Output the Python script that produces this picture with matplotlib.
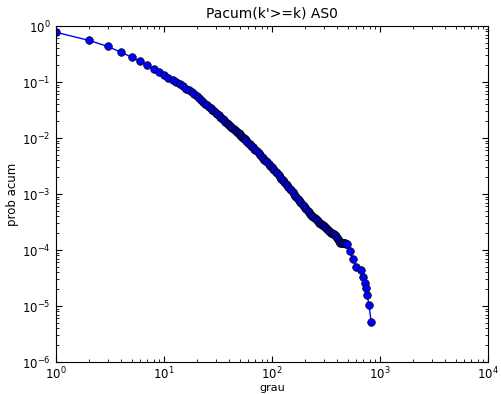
import numpy as np
import matplotlib
matplotlib.use('Agg')
import matplotlib.pyplot as plt

# degree values (grau) and cumulative probability P(k'>=k)
grau = [1, 2, 3, 4, 5, 6, 7, 8, 9, 10, 11, 12, 13, 14, 15, 16, 17, 18, 19, 20,
        21, 22, 23, 24, 25, 26, 27, 28, 29, 30, 31, 32, 33, 34, 35, 36, 37,
        38, 39, 40, 41, 42, 43, 44, 45, 46, 47, 48, 49, 50, 51, 52, 53, 54,
        55, 56, 57, 58, 60, 62, 64, 66, 68, 70, 72, 75, 77, 80, 82, 85, 87,
        90, 93, 96, 99, 102, 105, 108, 111, 115, 118, 122, 126, 130, 134, 138,
        142, 146, 150, 155, 160, 164, 168, 173, 177, 182, 187, 192, 197, 202,
        207, 213, 219, 225, 230, 236, 242, 248, 254, 260, 266, 272, 278, 285,
        291, 298, 305, 312, 319, 326, 333, 340, 347, 355, 362, 370, 377, 385,
        392, 400, 407, 415, 422, 430, 440, 450, 460, 470, 480, 490, 527, 562,
        599, 667, 696, 727, 742, 758, 791, 826]
prob_acum = [0.772, 0.556, 0.434, 0.339, 0.279, 0.234, 0.199, 0.171, 0.153,
             0.132, 0.118, 0.107, 0.100, 0.0908, 0.0832, 0.0765, 0.0706,
             0.0652, 0.0603, 0.0560,
             0.0513, 0.0472, 0.0439, 0.0409, 0.0382, 0.0358, 0.0337, 0.0317,
             0.0299, 0.0282, 0.0267, 0.0253, 0.0240, 0.0229, 0.0217, 0.0207,
             0.0197, 0.0188, 0.0180, 0.0173,
             0.01656, 0.01589, 0.0152, 0.01462, 0.01403, 0.0135, 0.01300,
             0.01253, 0.0121, 0.01164, 0.01122, 0.01084, 0.01047, 0.01012,
             0.0098, 0.00946, 0.00916, 0.00885, 0.00828, 0.00777, 0.00728,
             0.00684, 0.00646, 0.00610, 0.00577, 0.00531, 0.00504, 0.00467,
             0.00445, 0.00413, 0.00394, 0.00366, 0.00342, 0.00319, 0.00299,
             0.00279, 0.00263, 0.00248, 0.00233, 0.00215, 0.00203, 0.00189,
             0.00175, 0.00163, 0.00152, 0.00142, 0.00132, 0.00124, 0.00116,
             0.00107, 0.000995, 0.000935, 0.000883, 0.000824, 0.000780,
             0.000729, 0.000684, 0.000643, 0.000605, 0.000572, 0.000541,
             0.000506, 0.000475, 0.000448, 0.000427, 0.000407, 0.000389,
             0.000372, 0.000355, 0.000339, 0.000324, 0.000309, 0.000299,
             0.000288, 0.000282, 0.000275, 0.000266, 0.000257, 0.000248,
             0.000240, 0.000229, 0.000219, 0.000211, 0.000204, 0.000200,
             0.000195, 0.000191, 0.000186, 0.000176, 0.000166, 0.000155,
             0.000145, 0.000140, 0.000135, 0.000134, 0.000133, 0.000132,
             0.000132, 0.000130, 0.000129, 9.6e-5, 6.9e-5, 4.97e-5, 4.4e-5,
             3.3e-5, 2.58e-5, 2.1e-5, 1.57e-5, 1.04e-5, 5.25e-6]

plt.rcParams['mathtext.fontset'] = 'dejavusans'
plt.rcParams['xtick.direction'] = 'in'
plt.rcParams['ytick.direction'] = 'in'
plt.rcParams['xtick.top'] = True
plt.rcParams['ytick.right'] = True

fig = plt.figure(figsize=(5.02, 3.94), dpi=100)
ax = fig.add_axes([0.1116, 0.0812, 0.8606, 0.8528])

ax.loglog(grau, prob_acum, '-o', color='b', lw=1, ms=5.5, mec='k', mew=0.5)
ax.set_xlim(1, 1e4)
ax.set_ylim(1e-6, 1)

ax.tick_params(which='major', length=4, labelsize=8.5, pad=4)
ax.tick_params(axis='x', which='major', pad=3)
ax.tick_params(which='minor', length=2)
ax.set_xlabel('grau', fontsize=8, labelpad=0)
ax.set_ylabel('prob acum', fontsize=8.5, labelpad=2)
ax.set_title("Pacum(k'>=k) AS0", fontsize=10, pad=6)

fig.savefig('out.png', dpi=100)
